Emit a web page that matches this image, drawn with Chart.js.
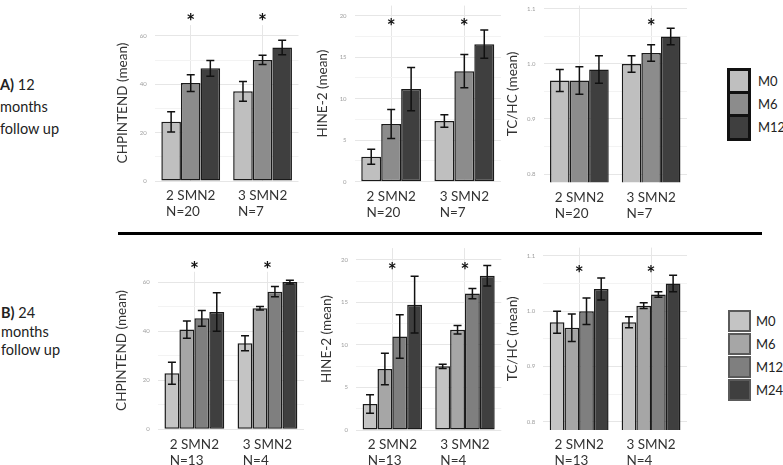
<!DOCTYPE html>
<html>
<head>
<meta charset="utf-8">
<script src="https://cdn.jsdelivr.net/npm/chart.js@4.4.0/dist/chart.umd.min.js"></script>
<style>
  body { margin: 0; width: 783px; height: 465px; overflow: hidden; position: relative; background: #fff; font-family: Lato, sans-serif; color: #222; }
  canvas { position: absolute; }
  .sec { position: absolute; left: 0; font-size: 14.5px; white-space: nowrap; }
  .sep { position: absolute; left: 118px; top: 232px; width: 644px; height: 3px; background: #000; }
  .lg { position: absolute; box-sizing: border-box; }
  .lgt { position: absolute; font-size: 13px; line-height: 16px; }
</style>
</head>
<body>
<div class="sec" style="top:74px;line-height:22px"><b>A)</b> 12<br>months<br>follow up</div>
<div class="sec" style="top:304px;line-height:18.5px;left:1px"><b>B)</b> 24<br>months<br>follow up</div>
<div class="sep"></div>

<script>
// --- Categories, series, ticks ---
const groups = ['2 SMN2', '3 SMN2'];
const groupNA = ['N=20', 'N=7'];
const groupNB = ['N=13', 'N=4'];
const seriesA = ['M0', 'M6', 'M12'];
const seriesB = ['M0', 'M6', 'M12', 'M24'];

const chpTicks = [0, 20, 40, 60];
const chpMinor = [10, 30, 50];
const hineTicks = [0, 5, 10, 15, 20];
const hineMinor = [2.5, 7.5, 12.5, 17.5];
const tchTicks = [0.8, 0.9, 1.0, 1.1];
const tchMinor = [0.85, 0.95, 1.05];

// --- A) 12 months follow up: one row per time point, one value per group ---
const chpA = [[24.5, 37.1], [40.5, 50.1], [46.6, 55.2]];
const chpAErr = [[4.2, 4.1], [3.45, 1.95], [3.25, 3.0]];
const hineA = [[3.0, 7.3], [6.95, 13.3], [11.15, 16.55]];
const hineAErr = [[0.9, 0.75], [1.75, 2.0], [2.6, 1.7]];
const tchA = [[0.97, 1.0], [0.97, 1.02], [0.99, 1.05]];
const tchAErr = [[0.02, 0.015], [0.025, 0.015], [0.025, 0.015]];

// --- B) 24 months follow up ---
const chpB = [[22.9, 35.1], [40.7, 49.4], [45.3, 56.2], [47.9, 60.1]];
const chpBErr = [[4.5, 3.05], [3.5, 0.7], [3.2, 2.1], [7.85, 0.75]];
const hineB = [[3.06, 7.5], [7.18, 11.8], [11.0, 16.05], [14.75, 18.15]];
const hineBErr = [[1.1, 0.25], [1.85, 0.5], [2.55, 0.6], [3.35, 1.2]];
const tchB = [[0.98, 0.98], [0.97, 1.01], [1.0, 1.03], [1.04, 1.05]];
const tchBErr = [[0.02, 0.01], [0.025, 0.005], [0.024, 0.005], [0.02, 0.015]];

// groups marked with * (p < 0.05)
const chpASig = [0, 1];
const hineASig = [0, 1];
const tchASig = [1];
const chpBSig = [0, 1];
const hineBSig = [0, 1];
const tchBSig = [0, 1];

const colorsA = ['#bfbfbf', '#8c8c8c', '#3f3f3f'];
const colorsB = ['#c4c4c4', '#a6a6a6', '#7f7f7f', '#3f3f3f'];

Chart.defaults.font.family = 'Lato, sans-serif';
const titleSize = 13.5;

// --- Panel layout ---
const rowA = { top: -6, bottom: 226 };
const rowB = { top: 236, bottom: 470 };

const panels = [
  { title: 'CHPINTEND (mean)', means: chpA, errs: chpAErr, sig: chpASig, ticks: chpTicks, minor: chpMinor, dec: 0,
    min: 0, max: 64.5, sigLevel: 68, n: groupNA, series: seriesA, colors: colorsA, row: rowA,
    titleX: 123.3, plotL: 154.8, plotR: 298.5, plotT: 25.1, plotB: 181 },
  { title: 'HINE-2 (mean)', means: hineA, errs: hineAErr, sig: hineASig, ticks: hineTicks, minor: hineMinor, dec: 0,
    min: 0, max: 21.2, sigLevel: 19.2, n: groupNA, series: seriesA, colors: colorsA, row: rowA,
    titleX: 323.3, plotL: 354.6, plotR: 500.9, plotT: 0.4, plotB: 181.7 },
  { title: 'TC/HC (mean)', means: tchA, errs: tchAErr, sig: tchASig, ticks: tchTicks, minor: tchMinor, dec: 1,
    min: 0.785, max: 1.106, sigLevel: 1.076, n: groupNA, series: seriesA, colors: colorsA, row: rowA,
    titleX: 513.3, plotL: 543.5, plotR: 687, plotT: 0, plotB: 182.3 },
  { title: 'CHPINTEND (mean)', means: chpB, errs: chpBErr, sig: chpBSig, ticks: chpTicks, minor: chpMinor, dec: 0,
    min: 0, max: 64.3, sigLevel: 67.2, n: groupNB, series: seriesB, colors: colorsB, row: rowB,
    titleX: 121.7, plotL: 157.8, plotR: 304, plotT: 271.8, plotB: 429.3 },
  { title: 'HINE-2 (mean)', means: hineB, errs: hineBErr, sig: hineBSig, ticks: hineTicks, minor: hineMinor, dec: 0,
    min: 0, max: 21.4, sigLevel: 19.3, n: groupNB, series: seriesB, colors: colorsB, row: rowB,
    titleX: 327, plotL: 356, plotR: 501.3, plotT: 248.1, plotB: 430 },
  { title: 'TC/HC (mean)', means: tchB, errs: tchBErr, sig: tchBSig, ticks: tchTicks, minor: tchMinor, dec: 1,
    min: 0.785, max: 1.115, sigLevel: 1.076, n: groupNB, series: seriesB, colors: colorsB, row: rowB,
    titleX: 513.3, plotL: 543.2, plotR: 687, plotT: 241.2, plotB: 430 }
];

// error bars, significance stars and two-line group labels
function makeExtras(p) {
  return {
    id: 'extras',
    afterDatasetsDraw(chart) {
      const ctx = chart.ctx;
      const ys = chart.scales.y;
      ctx.save();
      ctx.strokeStyle = '#111';
      ctx.lineWidth = 1.5;
      p.errs.forEach((row, di) => {
        const meta = chart.getDatasetMeta(di);
        row.forEach((e, i) => {
          const x = meta.data[i].x;
          const v = p.means[di][i];
          const y1 = ys.getPixelForValue(v + e);
          const y2 = ys.getPixelForValue(v - e);
          ctx.beginPath();
          ctx.moveTo(x, y1); ctx.lineTo(x, y2);
          ctx.moveTo(x - 4, y1); ctx.lineTo(x + 4, y1);
          ctx.moveTo(x - 4, y2); ctx.lineTo(x + 4, y2);
          ctx.stroke();
        });
      });
      ctx.restore();
    },
    afterDraw(chart) {
      const ctx = chart.ctx;
      const xs = chart.scales.x;
      const ys = chart.scales.y;
      const bottom = chart.chartArea.bottom;
      ctx.save();
      // stars
      ctx.fillStyle = '#111';
      ctx.font = 'bold 21px Lato, sans-serif';
      ctx.textAlign = 'center';
      ctx.textBaseline = 'alphabetic';
      p.sig.forEach(i => {
        ctx.fillText('*', xs.getPixelForValue(i), ys.getPixelForValue(p.sigLevel) + 12);
      });
      // group labels
      ctx.fillStyle = '#333';
      ctx.font = '13.5px Lato, sans-serif';
      ctx.textAlign = 'left';
      ctx.textBaseline = 'middle';
      groups.forEach((g, i) => {
        const cx = xs.getPixelForValue(i);
        const w = ctx.measureText(g).width;
        ctx.fillText(g, cx - w / 2, bottom + 15);
        ctx.fillText(p.n[i], cx - w / 2, bottom + 31);
      });
      ctx.restore();
    }
  };
}

panels.forEach(p => {
  const left = Math.round(p.titleX - titleSize * 0.6);
  const width = Math.ceil(p.plotR + 3 - left);
  const top = p.row.top;
  const height = p.row.bottom - top;

  const canvas = document.createElement('canvas');
  canvas.width = width;
  canvas.height = height;
  canvas.style.left = left + 'px';
  canvas.style.top = top + 'px';
  document.body.appendChild(canvas);

  const allTicks = p.ticks.map(v => ({ value: v, isMajor: true }))
    .concat(p.minor.map(v => ({ value: v, isMajor: false })))
    .sort((a, b) => a.value - b.value);

  new Chart(canvas.getContext('2d'), {
    type: 'bar',
    data: {
      labels: groups,
      datasets: p.means.map((vals, i) => ({
        label: p.series[i],
        data: vals,
        backgroundColor: p.colors[i],
        borderColor: '#1a1a1a',
        borderWidth: 1.5,
        borderSkipped: false,
        barPercentage: 1,
        categoryPercentage: 0.9 / 1.1
      }))
    },
    options: {
      responsive: false,
      animation: false,
      devicePixelRatio: 1,
      layout: {
        padding: { top: p.plotT - top, right: width - (p.plotR - left), left: 0, bottom: 0 }
      },
      plugins: {
        legend: { display: false },
        tooltip: { enabled: false }
      },
      scales: {
        x: {
          grid: { color: '#e6e6e6', offset: false, drawTicks: false },
          border: { display: false },
          ticks: { display: false },
          afterFit: s => { s.height = p.row.bottom - p.plotB; }
        },
        y: {
          min: p.min,
          max: p.max,
          afterBuildTicks: s => { s.ticks = allTicks.map(t => ({ ...t })); },
          afterFit: s => { s.width = p.plotL - left; },
          grid: {
            drawTicks: false,
            color: c => (c.tick && c.tick.isMajor) ? '#e6e6e6' : '#f3f3f3'
          },
          border: { display: false },
          ticks: {
            autoSkip: false,
            padding: 8,
            color: '#a0a0a0',
            font: { size: 6 },
            callback: (v, i, ticks) => ticks[i].isMajor ? v.toFixed(p.dec) : ''
          },
          title: {
            display: true,
            text: p.title,
            color: '#333',
            padding: 0,
            font: { size: titleSize }
          }
        }
      }
    },
    plugins: [makeExtras(p)]
  });
});

// --- Legends ---
function legend(series, colors, opts) {
  series.forEach((s, i) => {
    const box = document.createElement('div');
    box.className = 'lg';
    const y = opts.top + i * opts.step;
    box.style.cssText = `left:${opts.left}px;top:${y}px;width:${opts.w}px;height:${opts.h}px;` +
      `background:${colors[i]};border:${opts.bw}px solid ${opts.bc}`;
    document.body.appendChild(box);
    const t = document.createElement('div');
    t.className = 'lgt';
    t.textContent = s;
    t.style.left = opts.textX + 'px';
    t.style.top = (y + opts.h / 2 - 8) + 'px';
    document.body.appendChild(t);
  });
}
legend(seriesA, colorsA, { left: 727, top: 67.7, step: 23.3, w: 24, h: 26.3, bw: 3, bc: '#111', textX: 758 });
legend(seriesB, colorsB, { left: 728, top: 310, step: 23, w: 23, h: 21.5, bw: 2, bc: '#5a5a5a', textX: 756 });
</script>
</body>
</html>
